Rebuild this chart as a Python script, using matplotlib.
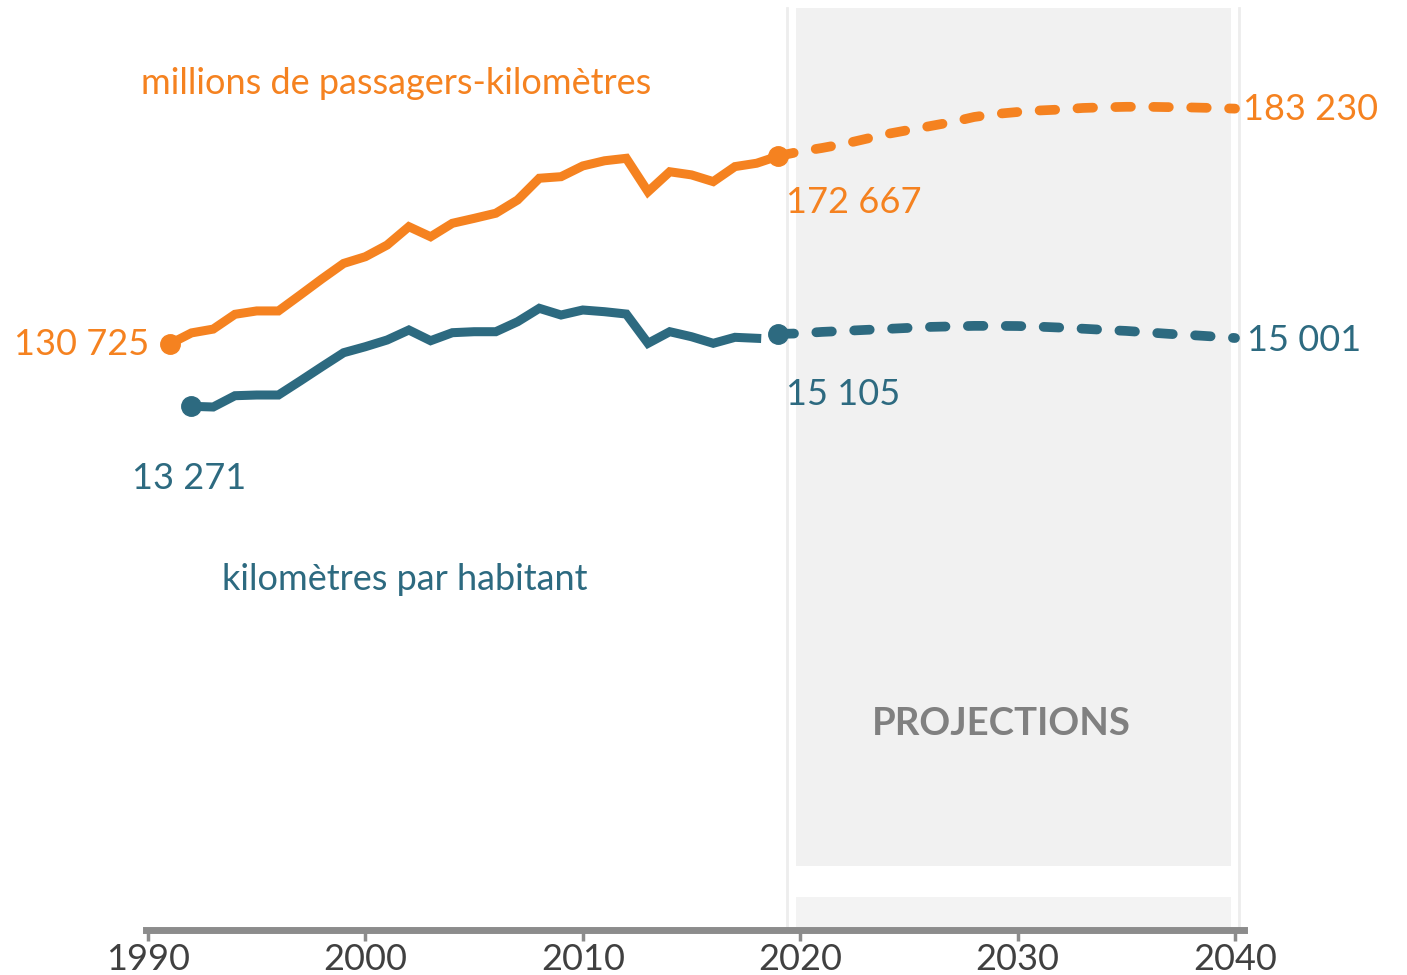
import numpy as np
import matplotlib
matplotlib.use("Agg")
import matplotlib.pyplot as plt
import matplotlib.transforms as mtransforms

plt.rcParams['font.family'] = ['Lato', 'DejaVu Sans']

# historical data
years_hist = list(range(1991, 2020))
pkm_hist = [130725, 133200, 134050, 137350, 138100, 138100, 141650, 145250, 148700,
            150200, 152800, 156900, 154650, 157650, 158750, 159900, 162850, 167700,
            168050, 170450, 171600, 172150, 164700, 169150, 168450, 166950, 170300,
            171050, 172667]
years_hab = list(range(1992, 2019))
hab_hist = [13271, 13253, 13539, 13557, 13557, 13912, 14274, 14629, 14781, 14951,
            15204, 14933, 15136, 15161, 15161, 15414, 15754, 15584, 15711, 15668,
            15609, 14867, 15161, 15034, 14867, 15019, 14994]

# projections
years_proj = list(range(2019, 2041))
pkm_proj = [172667, 173670, 174450, 175345, 176460, 177580, 178470, 179360, 180250,
            181370, 182040, 182480, 182820, 183040, 183380, 183530, 183640, 183640,
            183560, 183490, 183380, 183230]
hab_proj = [15105, 15118, 15156, 15181, 15207, 15232, 15258, 15283, 15296, 15309,
            15309, 15305, 15288, 15265, 15237, 15207, 15181, 15143, 15105, 15075,
            15040, 15001]

xticks = [1990, 2000, 2010, 2020, 2030, 2040]

ORANGE = '#F58220'
TEAL = '#2D6A80'

W, H = 1407, 975
fig = plt.figure(figsize=(W / 100, H / 100), dpi=100)
left_px, right_px, top_px, bot_px = 145.8, 1243.7, 5, 930
ax = fig.add_axes([left_px / W, (H - bot_px) / H, (right_px - left_px) / W, (bot_px - top_px) / H])
ax2 = ax.twinx()
ax.set_xlim(1989.9, 2040.4)
ax.set_ylim(0, 206350)
ax2.set_ylim(0, 23440)

# projection shading
ax.axvspan(2019.8, 2039.8, ymin=0.069, ymax=0.997, color='#F1F1F1', lw=0, zorder=0)
ax.axvspan(2019.8, 2039.8, ymin=0.003, ymax=0.036, color='#F3F3F3', lw=0, zorder=0)
for xe in (2019.4, 2040.2):
    ax.axvline(xe, ymin=0.0, ymax=0.997, color='#EDEDED', lw=2, zorder=0)
ax.text(2029.25, 0.223, 'PROJECTIONS', transform=mtransforms.blended_transform_factory(ax.transData, ax.transAxes),
        ha='center', va='center', fontsize=27.5, fontweight='bold', color='#808080')

dash = dict(lw=7, dashes=(1.6, 2.3), dash_capstyle='round', solid_capstyle='round')

ax.plot(years_hist, pkm_hist, color=ORANGE, lw=6.5, solid_joinstyle='miter', zorder=3)
ax.plot(years_proj, pkm_proj, color=ORANGE, zorder=3, **dash)
ax.plot([years_hist[0], years_proj[0]], [pkm_hist[0], pkm_proj[0]], 'o', color=ORANGE, ms=14, zorder=4)

ax2.plot(years_hab, hab_hist, color=TEAL, lw=6.5, solid_joinstyle='miter', zorder=3)
ax2.plot(years_proj, hab_proj, color=TEAL, zorder=3, **dash)
ax2.plot([years_hab[0], years_proj[0]], [hab_hist[0], hab_proj[0]], 'o', color=TEAL, ms=14, zorder=4)

def fmt(v):
    return f'{v:,}'.replace(',', ' ')

lab = dict(textcoords='offset pixels', fontsize=26, va='center')
ax.annotate(fmt(pkm_hist[0]), (years_hist[0], pkm_hist[0]), xytext=(-20, 0), ha='right', color=ORANGE, **lab)
ax.annotate(fmt(pkm_proj[0]), (years_proj[0], pkm_proj[0]), xytext=(8, -47), ha='left', color=ORANGE, **lab)
ax.annotate(fmt(pkm_proj[-1]), (years_proj[-1], pkm_proj[-1]), xytext=(8, -1), ha='left', color=ORANGE, **lab)
ax2.annotate(fmt(hab_hist[0]), (years_hab[0], hab_hist[0]), xytext=(-59, -72), ha='left', color=TEAL, **lab)
ax2.annotate(fmt(hab_proj[0]), (years_proj[0], hab_proj[0]), xytext=(8, -61), ha='left', color=TEAL, **lab)
ax2.annotate(fmt(hab_proj[-1]), (years_proj[-1], hab_proj[-1]), xytext=(12, -2), ha='left', color=TEAL, **lab)

fig.text(141 / W, 1 - 83 / H, 'millions de passagers-kilomètres', color=ORANGE, fontsize=26, va='center', ha='left')
fig.text(222 / W, 1 - 579 / H, 'kilomètres par habitant', color=TEAL, fontsize=26, va='center', ha='left')

for a in (ax, ax2):
    for s in ('top', 'right', 'left'):
        a.spines[s].set_visible(False)
    a.set_yticks([])
ax2.spines['bottom'].set_visible(False)
ax.spines['bottom'].set_color('#8C8C8C')
ax.spines['bottom'].set_linewidth(5)
ax.set_xticks(xticks)
ax.tick_params(axis='x', length=8, width=2.5, color='#8C8C8C', labelsize=26, labelcolor='#404040', pad=1)
ax.patch.set_visible(False)

fig.savefig('out.png', dpi=100)
